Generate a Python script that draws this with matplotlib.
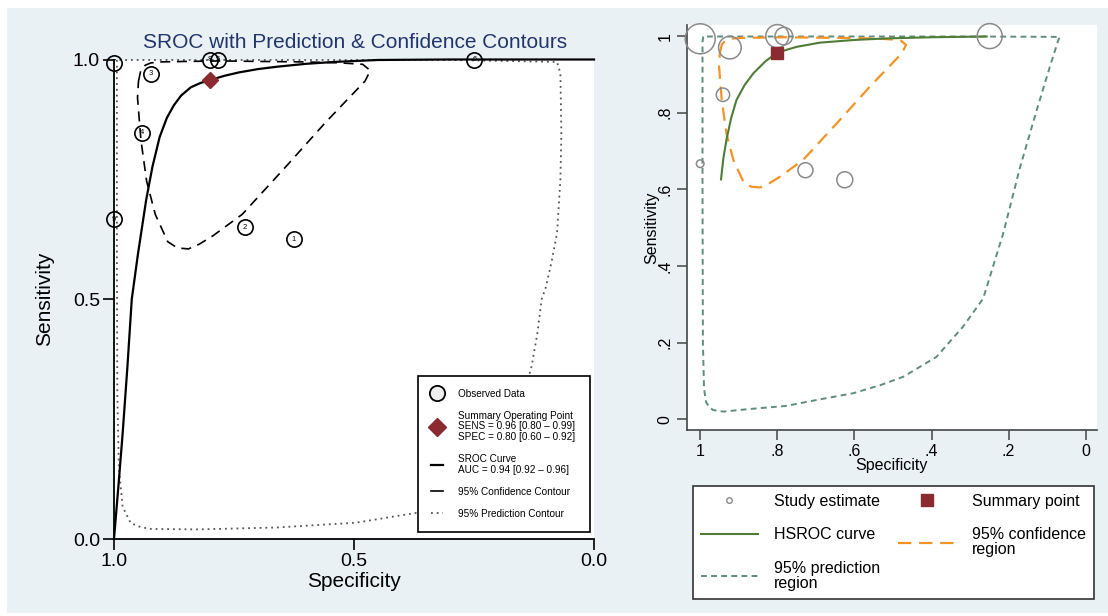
import matplotlib
matplotlib.use("Agg")
import matplotlib.pyplot as plt
from matplotlib.patches import Rectangle
from matplotlib.lines import Line2D

plt.rcParams['font.family'] = ['Liberation Sans', 'DejaVu Sans']

# ---- study data (specificity, sensitivity) ----
study_id = ['1', '2', '3', '4', '5', '6', '7', '8', '9']
study_spec = [0.625, 0.727, 0.923, 0.941, 0.783, 0.249, 1.0, 0.80, 1.0]
study_sens = [0.625, 0.650, 0.970, 0.847, 1.0, 1.0, 0.993, 1.0, 0.667]
study_weight = [8.0, 7.5, 11.3, 6.7, 8.8, 12.5, 15.0, 11.5, 3.8]

summary_spec = 0.80
summary_sens = 0.957

# SROC curve (left panel)
sroc_spec = [1.0, 0.99, 0.982, 0.972, 0.963, 0.95, 0.933, 0.92, 0.905, 0.89,
             0.875, 0.86, 0.84, 0.82, 0.80, 0.77, 0.74, 0.70, 0.66, 0.60,
             0.54, 0.45, 0.30, 0.0]
sroc_sens = [0.0, 0.12, 0.22, 0.36, 0.50, 0.595, 0.707, 0.776, 0.838, 0.878,
             0.905, 0.925, 0.942, 0.951, 0.957, 0.966, 0.973, 0.980, 0.985,
             0.991, 0.995, 0.999, 1.0, 1.0]

# HSROC curve (right panel)
hsroc_spec = [0.946, 0.94, 0.932, 0.92, 0.906, 0.885, 0.862, 0.83, 0.80,
              0.75, 0.689, 0.60, 0.516, 0.40, 0.257]
hsroc_sens = [0.626, 0.68, 0.729, 0.785, 0.833, 0.872, 0.903, 0.935, 0.957,
              0.972, 0.983, 0.990, 0.994, 0.997, 0.999]

# 95% confidence region
conf_spec = [0.949, 0.944, 0.935, 0.923, 0.90, 0.85, 0.776, 0.70, 0.603, 0.53,
             0.482, 0.466, 0.477, 0.52, 0.560, 0.646, 0.733, 0.793, 0.822,
             0.845, 0.868, 0.888, 0.914, 0.932, 0.944, 0.951, 0.949]
conf_sens = [0.955, 0.978, 0.988, 0.993, 0.995, 0.996, 0.997, 0.996, 0.995,
             0.993, 0.990, 0.977, 0.955, 0.91, 0.868, 0.772, 0.677, 0.633,
             0.615, 0.605, 0.607, 0.620, 0.677, 0.746, 0.833, 0.920, 0.955]

# 95% prediction region, left panel
predl_spec = [0.994, 0.994, 0.993, 0.99, 0.982, 0.965, 0.945, 0.924, 0.826,
              0.661, 0.496, 0.373, 0.31, 0.25, 0.19, 0.15, 0.13, 0.118, 0.109,
              0.10, 0.088, 0.077, 0.070, 0.068, 0.07, 0.077, 0.3, 0.7, 0.994]
predl_sens = [0.999, 0.6, 0.3, 0.15, 0.067, 0.033, 0.025, 0.021, 0.02, 0.024,
              0.034, 0.054, 0.075, 0.12, 0.2, 0.29, 0.36, 0.429, 0.5, 0.526,
              0.58, 0.638, 0.75, 0.846, 0.971, 0.995, 0.999, 0.999, 0.999]

# 95% prediction region, right panel
predr_spec = [0.992, 0.994, 0.994, 0.993, 0.990, 0.985, 0.975, 0.966, 0.940,
              0.88, 0.776, 0.70, 0.603, 0.53, 0.473, 0.387, 0.318, 0.266,
              0.214, 0.170, 0.127, 0.093, 0.071, 0.067, 0.3, 0.7, 0.992]
predr_sens = [0.999, 0.985, 0.6, 0.2, 0.08, 0.045, 0.03, 0.024, 0.02, 0.026,
              0.035, 0.05, 0.068, 0.09, 0.111, 0.163, 0.242, 0.315, 0.485,
              0.659, 0.807, 0.920, 0.990, 0.998, 0.999, 0.999, 0.999]

legend_left = ['Observed Data',
               'Summary Operating Point\nSENS = 0.96 [0.80 \u2013 0.99]\nSPEC = 0.80 [0.60 \u2013 0.92]',
               'SROC Curve\nAUC = 0.94 [0.92 \u2013 0.96]',
               '95% Confidence Contour',
               '95% Prediction Contour']

W, H = 1108, 616
BG = '#e9f1f4'
MAROON = '#8b2a30'
GREEN = '#4f7d36'
ORANGE = '#f39325'
TEAL = '#5e8c80'

fig = plt.figure(figsize=(W / 100, H / 100), dpi=100, facecolor='white')
fig.patches.append(Rectangle((7 / W, 3 / H), 1 - 7 / W, 605 / H,
                             transform=fig.transFigure, facecolor=BG,
                             edgecolor='none', zorder=-10))

# ================= left panel =================
ax = fig.add_axes([114 / W, 1 - 539 / H, 480 / W, 479.5 / H])
ax.set_xlim(1, 0)
ax.set_ylim(0, 1)
for s in ['top', 'right']:
    ax.spines[s].set_visible(False)
for s in ['left', 'bottom']:
    ax.spines[s].set_linewidth(1.3)
ax.tick_params(direction='out', length=8, width=1.2, labelsize=14, pad=2)
ax.set_xticks([1.0, 0.5, 0.0])
ax.set_xticklabels(['1.0', '0.5', '0.0'])
ax.set_yticks([0.0, 0.5, 1.0])
ax.set_yticklabels(['0.0', '0.5', '1.0'])
ax.set_xlabel('Specificity', fontsize=15)
ax.set_ylabel('Sensitivity', fontsize=15)
ax.xaxis.set_label_coords(0.5, -0.068)
ax.yaxis.set_label_coords(-0.125, 0.5)

ax.plot(predl_spec, predl_sens, color='#555555', lw=1.3, ls=(0, (1, 2.2)), clip_on=False)
ax.plot(conf_spec, conf_sens, color='black', lw=1.2, ls=(0, (6, 4)), clip_on=False)
ax.plot(sroc_spec, sroc_sens, color='black', lw=1.6, clip_on=False)
ax.plot(study_spec, study_sens, 'o', ms=11, mfc='none', mec='black', mew=1.2,
        clip_on=False, zorder=5)
for i, sx, sy in zip(study_id, study_spec, study_sens):
    ax.text(sx, sy, i, fontsize=5.5, ha='center', va='center', zorder=6)
ax.plot([summary_spec], [summary_sens], 'D', ms=8, color=MAROON, zorder=7,
        clip_on=False)

handles = [Line2D([], [], marker='o', ls='none', ms=11, mfc='#eeeeee', mec='black', mew=1.3),
           Line2D([], [], marker='D', ls='none', ms=9, color=MAROON),
           Line2D([], [], color='black', lw=1.6),
           Line2D([], [], color='black', lw=1.2),
           Line2D([], [], color='#555555', lw=1.3, ls=(0, (1, 2.2)))]
leg = ax.legend(handles, legend_left, loc='lower left',
                bbox_to_anchor=(0.633, 0.0146, 0.359, 0.334), mode='expand',
                borderaxespad=0, fontsize=7.2, handlelength=1.2,
                handletextpad=1.5, labelspacing=1.2, borderpad=1.3,
                fancybox=False, framealpha=1, edgecolor='black')
for t in leg.get_texts():
    t.set_linespacing(1.1)
leg.get_frame().set_linewidth(1.2)
leg.set_zorder(10)

fig.text(355 / W, 1 - 42 / H, 'SROC with Prediction & Confidence Contours',
         ha='center', va='center', fontsize=15, color='#22356b')

# ================= right panel =================
ax2 = fig.add_axes([686.7 / W, 1 - 430 / H, 410 / W, 405 / H])
ax2.set_xlim(1.035, -0.0285)
ax2.set_ylim(-0.028, 1.029)
for s in ['top', 'right']:
    ax2.spines[s].set_visible(False)
for s in ['left', 'bottom']:
    ax2.spines[s].set_linewidth(1.2)
    ax2.spines[s].set_color('#444444')
ax2.tick_params(direction='out', length=7, width=1.1, color='#444444',
                labelsize=11.5, pad=3)
ax2.set_xticks([1, 0.8, 0.6, 0.4, 0.2, 0])
ax2.set_xticklabels(['1', '.8', '.6', '.4', '.2', '0'])
ax2.set_yticks([0, 0.2, 0.4, 0.6, 0.8, 1])
ax2.set_yticklabels(['0', '.2', '.4', '.6', '.8', '1'], rotation=90, va='center')
ax2.set_xlabel('Specificity', fontsize=11.5)
ax2.set_ylabel('Sensitivity', fontsize=11.5)
ax2.xaxis.set_label_coords(0.5, -0.07)
ax2.yaxis.set_label_coords(-0.066, 0.5)

ax2.plot(predr_spec, predr_sens, color=TEAL, lw=1.4, ls=(0, (3, 2.2)))
ax2.plot(conf_spec, conf_sens, color=ORANGE, lw=1.6, ls=(0, (6, 3.5)))
ax2.plot(hsroc_spec, hsroc_sens, color=GREEN, lw=1.5)
ax2.scatter(study_spec, study_sens, s=[(2 * w * 0.72) ** 2 for w in study_weight],
            facecolors='none', edgecolors='#8a8a8a', linewidths=1.1, zorder=5,
            clip_on=False)
ax2.plot([summary_spec], [summary_sens], 's', ms=8, color=MAROON, zorder=6)

h2 = [Line2D([], [], marker='o', ls='none', ms=4, mfc='none', mec='#8a8a8a'),
      Line2D([], [], color=GREEN, lw=1.5),
      Line2D([], [], color=TEAL, lw=1.4, ls=(0, (3, 2.2))),
      Line2D([], [], marker='s', ls='none', ms=9, color=MAROON),
      Line2D([], [], color=ORANGE, lw=1.6, ls=(0, (6, 3.5)))]
l2 = ['Study estimate', 'HSROC curve', '95% prediction\nregion',
      'Summary point', '95% confidence\nregion']
leg2 = fig.legend(h2, l2, loc='upper left', ncol=2,
                  bbox_to_anchor=(692.7 / W, 1 - 599.3 / H, 401 / W, 113.3 / H),
                  mode='expand', borderaxespad=0, fontsize=11.5,
                  handlelength=3.6, handletextpad=1.0, labelspacing=1.15,
                  borderpad=0.5, columnspacing=1.5,
                  fancybox=False, framealpha=1, edgecolor='#333333')
for t in leg2.get_texts():
    t.set_linespacing(1.0)
leg2.get_frame().set_linewidth(1.2)

fig.savefig('out.png', dpi=100, facecolor=fig.get_facecolor())
